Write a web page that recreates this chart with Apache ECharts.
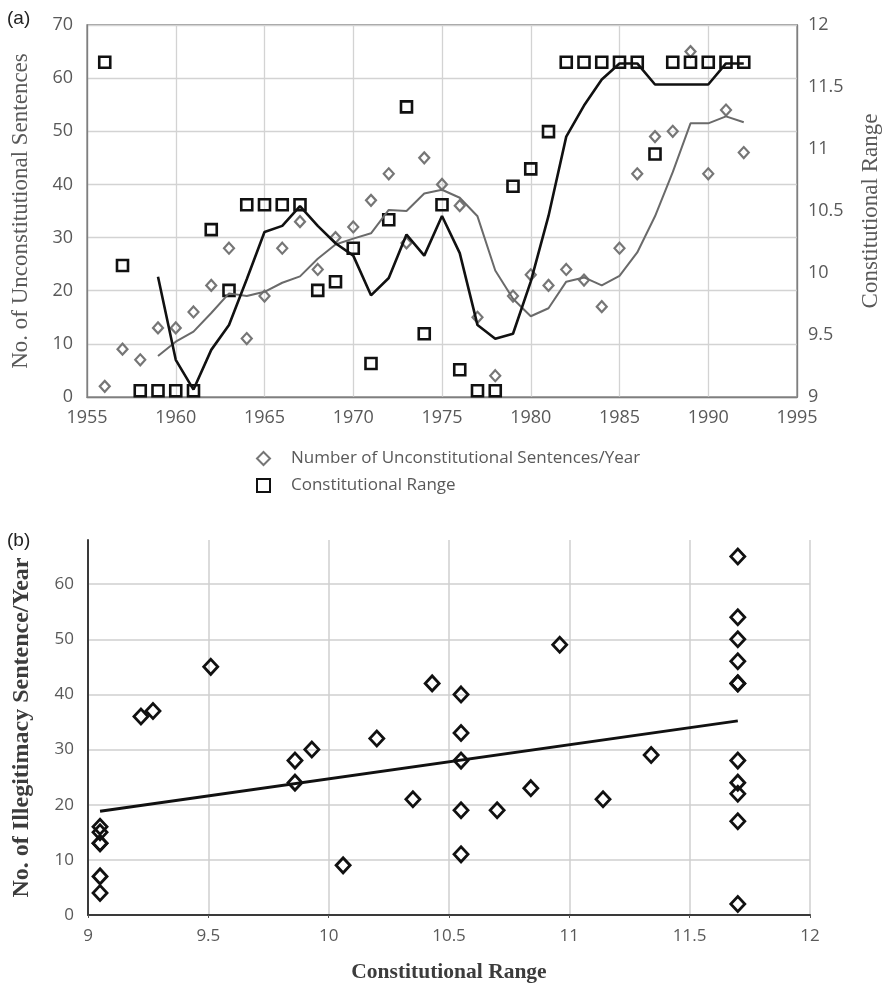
<!DOCTYPE html>
<html><head><meta charset="utf-8">
<script src="https://cdn.jsdelivr.net/npm/echarts@6/dist/echarts.min.js"></script>
<style>html,body{margin:0;padding:0;background:#fff}#c{width:890px;height:984px}</style>
</head><body><div id="c"></div>
<script>
// ---- data ----
const years = [1956,1957,1958,1959,1960,1961,1962,1963,1964,1965,1966,1967,1968,1969,1970,1971,1972,1973,1974,1975,1976,1977,1978,1979,1980,1981,1982,1983,1984,1985,1986,1987,1988,1989,1990,1991,1992];
const sentences = [2,9,7,13,13,16,21,28,11,19,28,33,24,30,32,37,42,29,45,40,36,15,4,19,23,21,24,22,17,28,42,49,50,65,42,54,46];
const constRange = [11.7,10.06,9.05,9.05,9.05,9.05,10.35,9.86,10.55,10.55,10.55,10.55,9.86,9.93,10.2,9.27,10.43,11.34,9.51,10.55,9.22,9.05,9.05,10.7,10.84,11.14,11.7,11.7,11.7,11.7,11.7,10.96,11.7,11.7,11.7,11.7,11.7];
const maYears = [1959,1960,1961,1962,1963,1964,1965,1966,1967,1968,1969,1970,1971,1972,1973,1974,1975,1976,1977,1978,1979,1980,1981,1982,1983,1984,1985,1986,1987,1988,1989,1990,1991,1992];
const sentencesMA = [7.7,10.4,12.3,15.8,19.5,19,19.8,21.5,22.7,26,28.7,29.8,30.8,35.2,35,38.3,39,37.5,34,23.8,18.5,15.2,16.7,21.7,22.5,21,22.8,27.2,34,42.3,51.5,51.5,52.8,51.7];
const rangeMA = [9.97,9.3,9.06,9.38,9.58,9.95,10.33,10.38,10.54,10.38,10.24,10.14,9.82,9.96,10.31,10.14,10.46,10.16,9.58,9.47,9.51,9.93,10.46,11.1,11.35,11.56,11.69,11.69,11.52,11.52,11.52,11.52,11.69,11.69];
const trendX = [9.05, 11.7];
const trendY = [18.8, 35.2];
const topYearTicks = [1955, 1995, 5];
const seriesNames = ['Number of Unconstitutional Sentences/Year', 'Constitutional Range'];

// ---- build ----
const zip = (a, b) => a.map((v, i) => [v, b[i]]);
const sans = 'Open Sans';
const serif = 'Liberation Serif';
const gray = '#595959';

const chart = echarts.init(document.getElementById('c'), null, {renderer: 'canvas'});
chart.setOption({
  backgroundColor: '#fff',
  animation: false,
  graphic: [
    {type: 'text', left: 7, top: 9, style: {text: '(a)', font: '19px "Liberation Sans"', fill: '#222'}},
    {type: 'text', left: 7, top: 531, style: {text: '(b)', font: '19px "Liberation Sans"', fill: '#222'}}
  ],
  legend: {
    orient: 'vertical', left: 251, top: 445, itemWidth: 13, itemHeight: 13, itemGap: 10,
    data: seriesNames,
    textStyle: {fontFamily: sans, fontSize: 17, color: gray, padding: [0, 0, 0, 16]}
  },
  grid: [
    {left: 87, top: 25, width: 711, height: 372, show: true, borderColor: '#7f7f7f', borderWidth: 1.3, backgroundColor: 'transparent'},
    {left: 88, top: 540, width: 722, height: 377}
  ],
  xAxis: [
    {gridIndex: 0, type: 'value', min: topYearTicks[0], max: topYearTicks[1], interval: topYearTicks[2],
     axisLine: {show: true, lineStyle: {color: '#7f7f7f', width: 1.3}}, axisTick: {show: false},
     splitLine: {show: true, lineStyle: {color: '#d3d3d3', width: 1.3}},
     axisLabel: {color: gray, fontSize: 18, fontFamily: sans, margin: 12, formatter: v => String(v)}},
    {gridIndex: 1, type: 'value', min: 9, max: 12, interval: 0.5,
     axisLine: {show: true, lineStyle: {color: '#3a3a3a', width: 2}}, axisTick: {show: true, length: 3, lineStyle: {color: '#555'}},
     splitLine: {show: true, lineStyle: {color: '#cfcfcf', width: 1.5}},
     axisLabel: {color: gray, fontSize: 17, fontFamily: sans, margin: 13},
     name: 'Constitutional Range', nameLocation: 'middle', nameGap: 46,
     nameTextStyle: {fontFamily: serif, fontWeight: 'bold', fontSize: 21.5, color: '#3c3c3c'}}
  ],
  yAxis: [
    {gridIndex: 0, type: 'value', min: 0, max: 70, interval: 10, position: 'left',
     axisLine: {show: true, lineStyle: {color: '#7f7f7f', width: 1.3}}, axisTick: {show: false},
     splitLine: {show: true, lineStyle: {color: '#d3d3d3', width: 1.3}},
     axisLabel: {color: gray, fontSize: 18, fontFamily: sans, margin: 14},
     name: 'No. of Unconstitutional Sentences', nameLocation: 'middle', nameGap: 55,
     nameTextStyle: {fontFamily: serif, fontSize: 23, color: gray}},
    {gridIndex: 0, type: 'value', min: 9, max: 12, interval: 0.5, position: 'right',
     axisLine: {show: true, lineStyle: {color: '#7f7f7f', width: 1.3}}, axisTick: {show: false},
     splitLine: {show: false},
     axisLabel: {color: gray, fontSize: 18, fontFamily: sans, margin: 11},
     name: 'Constitutional Range', nameLocation: 'middle', nameGap: 62,
     nameTextStyle: {fontFamily: serif, fontSize: 23, color: gray}},
    {gridIndex: 1, type: 'value', min: 0, max: 68, interval: 10,
     axisLine: {show: true, lineStyle: {color: '#3a3a3a', width: 2}}, axisTick: {show: false},
     splitLine: {show: true, showMaxLine: false, lineStyle: {color: '#cfcfcf', width: 1.5}},
     axisLabel: {color: gray, fontSize: 17, fontFamily: sans, margin: 14, showMaxLabel: false},
     name: 'No. of Illegitimacy Sentence/Year', nameLocation: 'middle', nameGap: 54,
     nameTextStyle: {fontFamily: serif, fontWeight: 'bold', fontSize: 24, color: '#3c3c3c'}}
  ],
  series: [
    {name: seriesNames[0], type: 'scatter', xAxisIndex: 0, yAxisIndex: 0, symbol: 'diamond', symbolSize: [10, 11],
     itemStyle: {opacity: 1, color: 'rgba(255,255,255,0)', borderColor: '#767676', borderWidth: 2.2}, data: zip(years, sentences), z: 3},
    {name: seriesNames[1], type: 'scatter', xAxisIndex: 0, yAxisIndex: 1, symbol: 'rect', symbolSize: 11,
     itemStyle: {opacity: 1, color: 'rgba(255,255,255,0)', borderColor: '#111', borderWidth: 2.6}, data: zip(years, constRange), z: 3},
    {name: 'ma1', type: 'line', xAxisIndex: 0, yAxisIndex: 0, symbol: 'none', silent: true,
     lineStyle: {color: '#6a6a6a', width: 2}, data: zip(maYears, sentencesMA), z: 4},
    {name: 'ma2', type: 'line', xAxisIndex: 0, yAxisIndex: 1, symbol: 'none', silent: true,
     lineStyle: {color: '#111', width: 2.6}, data: zip(maYears, rangeMA), z: 4},
    {name: 'scatterB', type: 'scatter', xAxisIndex: 1, yAxisIndex: 2, symbol: 'diamond', symbolSize: [14, 15],
     itemStyle: {opacity: 1, color: 'rgba(255,255,255,0)', borderColor: '#111', borderWidth: 2.8}, data: zip(constRange, sentences), z: 3},
    {name: 'trend', type: 'line', xAxisIndex: 1, yAxisIndex: 2, symbol: 'none', silent: true,
     lineStyle: {color: '#111', width: 3}, data: zip(trendX, trendY), z: 4}
  ]
});
</script>
</body></html>
